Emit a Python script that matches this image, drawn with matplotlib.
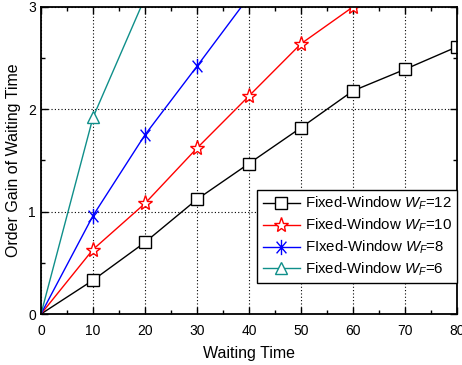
import numpy as np
import matplotlib
matplotlib.use("Agg")
import matplotlib.pyplot as plt
from matplotlib.path import Path
from matplotlib.ticker import MultipleLocator

plt.rcParams['font.family'] = ['Liberation Sans', 'DejaVu Sans']
plt.rcParams['mathtext.fontset'] = 'custom'
plt.rcParams['mathtext.it'] = 'Liberation Sans:italic'
plt.rcParams['mathtext.rm'] = 'Liberation Sans'

waiting_w12 = [0, 10, 20, 30, 40, 50, 60, 70, 80]
gain_w12 = [0, 0.33, 0.70, 1.12, 1.47, 1.82, 2.18, 2.39, 2.61]

waiting_w10 = [0, 10, 20, 30, 40, 50, 60]
gain_w10 = [0, 0.63, 1.08, 1.62, 2.13, 2.64, 3.0]

waiting_w8 = [0, 10, 20, 30, 40]
gain_w8 = [0, 0.96, 1.75, 2.42, 3.10]

waiting_w6 = [0, 10, 20]
gain_w6 = [0, 1.92, 3.09]

labels = [r"Fixed-Window $W_F$=12", r"Fixed-Window $W_F$=10",
          r"FIxed-Window $W_F$=8", r"Fixed-Window $W_F$=6"]

# six-armed asterisk marker
ang = np.deg2rad(50)
asterisk = Path(
    [(0, -1), (0, 1),
     (-np.cos(ang), -np.sin(ang)), (np.cos(ang), np.sin(ang)),
     (-np.cos(ang), np.sin(ang)), (np.cos(ang), -np.sin(ang))],
    [Path.MOVETO, Path.LINETO, Path.MOVETO, Path.LINETO, Path.MOVETO, Path.LINETO])

fig = plt.figure(figsize=(4.62, 3.65), dpi=100)
ax = fig.add_axes([0.0887, 0.1397, 0.9003, 0.8413])

ax.plot(waiting_w12, gain_w12, color='black', lw=1.0, marker='s', ms=8,
        mfc='white', mec='black', mew=1.0, markevery=range(1, len(gain_w12)),
        label=labels[0])
ax.plot(waiting_w10, gain_w10, color='red', lw=1.0, marker='*', ms=11,
        mfc='white', mec='red', mew=1.0, markevery=range(1, len(gain_w10)),
        label=labels[1])
ax.plot(waiting_w8, gain_w8, color='blue', lw=1.0, marker=asterisk, ms=11,
        mec='blue', mew=1.0, markevery=range(1, len(gain_w8)),
        label=labels[2])
ax.plot(waiting_w6, gain_w6, color='#0f8f8a', lw=1.0, marker='^', ms=9,
        mfc='white', mec='#0f8f8a', mew=1.0, markevery=range(1, len(gain_w6)),
        label=labels[3])

ax.set_xlim(0, 80)
ax.set_ylim(0, 3)
ax.xaxis.set_major_locator(MultipleLocator(10))
ax.xaxis.set_minor_locator(MultipleLocator(5))
ax.yaxis.set_major_locator(MultipleLocator(1))
ax.yaxis.set_minor_locator(MultipleLocator(0.5))
ax.tick_params(which='both', direction='in', top=True, right=True, labelsize=10,
               width=1.0)
ax.tick_params(axis='x', which='major', pad=7)
ax.tick_params(which='major', length=5)
ax.tick_params(which='minor', length=3)
ax.grid(True, which='major', color='black', linestyle=(0, (1, 2)), linewidth=0.8)
for s in ax.spines.values():
    s.set_linewidth(1.3)

ax.set_xlabel('Waiting Time', fontsize=11.5, labelpad=6)
ax.set_ylabel('Order Gain of Waiting Time', fontsize=11.5, labelpad=5)

leg = ax.legend(loc='lower right', bbox_to_anchor=(1.0, 0.1), fontsize=10.8,
                fancybox=False, edgecolor='black', framealpha=1.0,
                handlelength=2.5, borderpad=0.35, labelspacing=0.3,
                handletextpad=0.3, borderaxespad=0.0)
leg.get_frame().set_linewidth(1.0)

fig.savefig('out.png', dpi=100)
